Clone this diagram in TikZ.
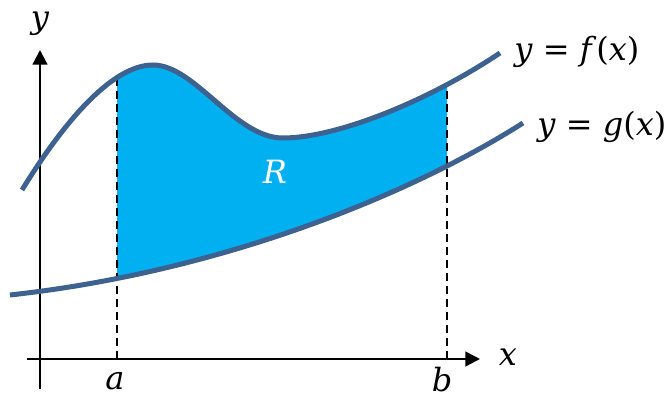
\documentclass[tikz,border=0pt]{standalone}
\usepackage{fontspec}
\newfontfamily\lab{DejaVu Serif}
\usetikzlibrary{arrows.meta}
\definecolor{curvecol}{HTML}{3E6290}
\definecolor{regioncol}{HTML}{00B0F0}
\begin{document}
\begin{tikzpicture}[x={(0.75pt,0)}, y={(0,-0.75pt)},
  curvestyle/.style={draw=curvecol, line width=3.75pt},
  axisline/.style={line width=1.9pt, -{Triangle[length=11pt,width=11pt]}},
  guide/.style={line width=1.4pt, dash pattern=on 6pt off 3.75pt},
  lbl/.style={font=\lab\fontsize{24}{28}\selectfont, inner sep=0pt}]
\useasboundingbox (0,0) rectangle (669,398);

% region R
\begin{scope}
  \clip (117,0) rectangle (447,398);
  \fill[regioncol] (22,190) .. controls (60,128) and (110,65) .. (153,65)
     .. controls (195,65) and (235,138) .. (283,138)
     .. controls (335,138) and (425,103) .. (500,53)
     -- (523,123) .. controls (410,195) and (220,272) .. (10,295) -- cycle;
\end{scope}

% named points
\coordinate (yb) at (40,389);
\coordinate (yt) at (40,50);
\coordinate (xl) at (27,359);
\coordinate (xr) at (480,359);
\coordinate (a0) at (117,359);
\coordinate (a1) at (117,77);
\coordinate (b0) at (447,359);
\coordinate (b1) at (447,84);

% guides
\draw[guide] (a0) -- (a1);
\draw[guide] (b0) -- (b1);

% axes
\draw[axisline] (yb) -- (yt);
\draw[axisline] (xl) -- (xr);

% curves
\draw[curvestyle] (22,190) .. controls (60,128) and (110,65) .. (153,65)
     .. controls (195,65) and (235,138) .. (283,138)
     .. controls (335,138) and (425,103) .. (500,53);
\draw[curvestyle] (10,295) .. controls (220,272) and (410,195) .. (523,123);

% labels
\node[lbl] (ylab) at (40,24) {\textit{y}};
\node[lbl] (xlab) at (508,357) {\textit{x}};
\node[lbl] (alab) at (115,381) {\textit{a}};
\node[lbl] (blab) at (442,380) {\textit{b}};
\node[lbl, text=white] (rlab) at (275,172) {\textit{R}};
\node[lbl, anchor=west] (flab) at (514,52) {\textit{y} = \textit{f}(\textit{x})};
\node[lbl, anchor=west] (glab) at (537,127) {\textit{y} = \textit{g}(\textit{x})};
\end{tikzpicture}
\end{document}
